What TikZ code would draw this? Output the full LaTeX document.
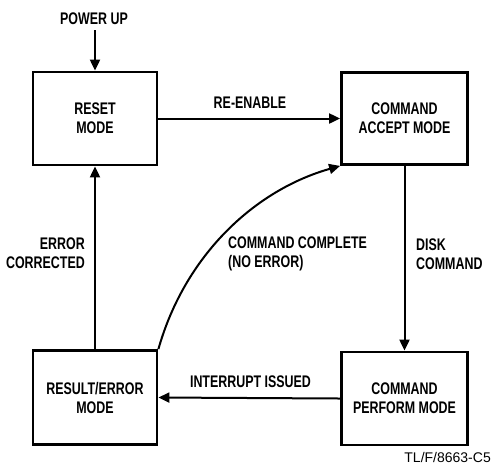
\documentclass[tikz,border=0pt]{standalone}
\usepackage{fontspec}
\setmainfont{Liberation Sans}[FakeStretch=0.74]
\newfontfamily\plainfont{Liberation Sans}
\usetikzlibrary{arrows.meta}
\begin{document}
\begin{tikzpicture}[x=1pt,y=-1pt,
  statebox/.style={draw,line width=2.8pt,align=center,inner sep=0pt,
    font=\fontsize{16.8}{19}\selectfont\bfseries},
  lbl/.style={font=\fontsize{16.8}{19}\selectfont\bfseries,inner sep=0pt},
  conn/.style={line width=2pt,-{Triangle[length=11pt,width=10pt]}}]
\useasboundingbox (0,0) rectangle (494,467);
\node[statebox,minimum width=124pt,minimum height=93pt] (reset) at (95,118.5) {RESET\\MODE};
\node[statebox,minimum width=126pt,minimum height=92pt] (accept) at (404.5,118.5) {COMMAND\\ACCEPT MODE};
\node[statebox,minimum width=124pt,minimum height=94pt] (result) at (95,397.5) {RESULT/ERROR\\MODE};
\node[statebox,minimum width=126pt,minimum height=93pt] (perform) at (404.5,398.5) {COMMAND\\PERFORM MODE};
\node[lbl] (pu) at (94,19) {POWER UP};
\coordinate (pustart) at (95,30);
\draw[conn] (pustart) -- (reset.north);
\draw[conn] (reset.east) -- (accept.west);
\node[lbl] (reen) at (250,103) {RE-ENABLE};
\draw[conn] (accept.south) -- (perform.north);
\node[lbl,align=left,anchor=west] (disk) at (416,254) {DISK\\COMMAND};
\draw[conn] (perform.west) -- (result.east);
\node[lbl] (intr) at (250.5,382) {INTERRUPT ISSUED};
\draw[conn] (result.north) -- (reset.south);
\node[lbl,align=right,anchor=east] (errc) at (85,253.5) {ERROR\\CORRECTED};
\draw[conn] (result.north east) .. controls (185,255) and (255,190) .. (accept.south west);
\node[lbl,align=left,anchor=west] (cc) at (228,254) {COMMAND COMPLETE\\(NO ERROR)};
\node[font=\plainfont\fontsize{14}{16}\selectfont,anchor=base east,inner sep=0pt] (tl) at (491,462) {TL/F/8663-C5};
\end{tikzpicture}
\end{document}
